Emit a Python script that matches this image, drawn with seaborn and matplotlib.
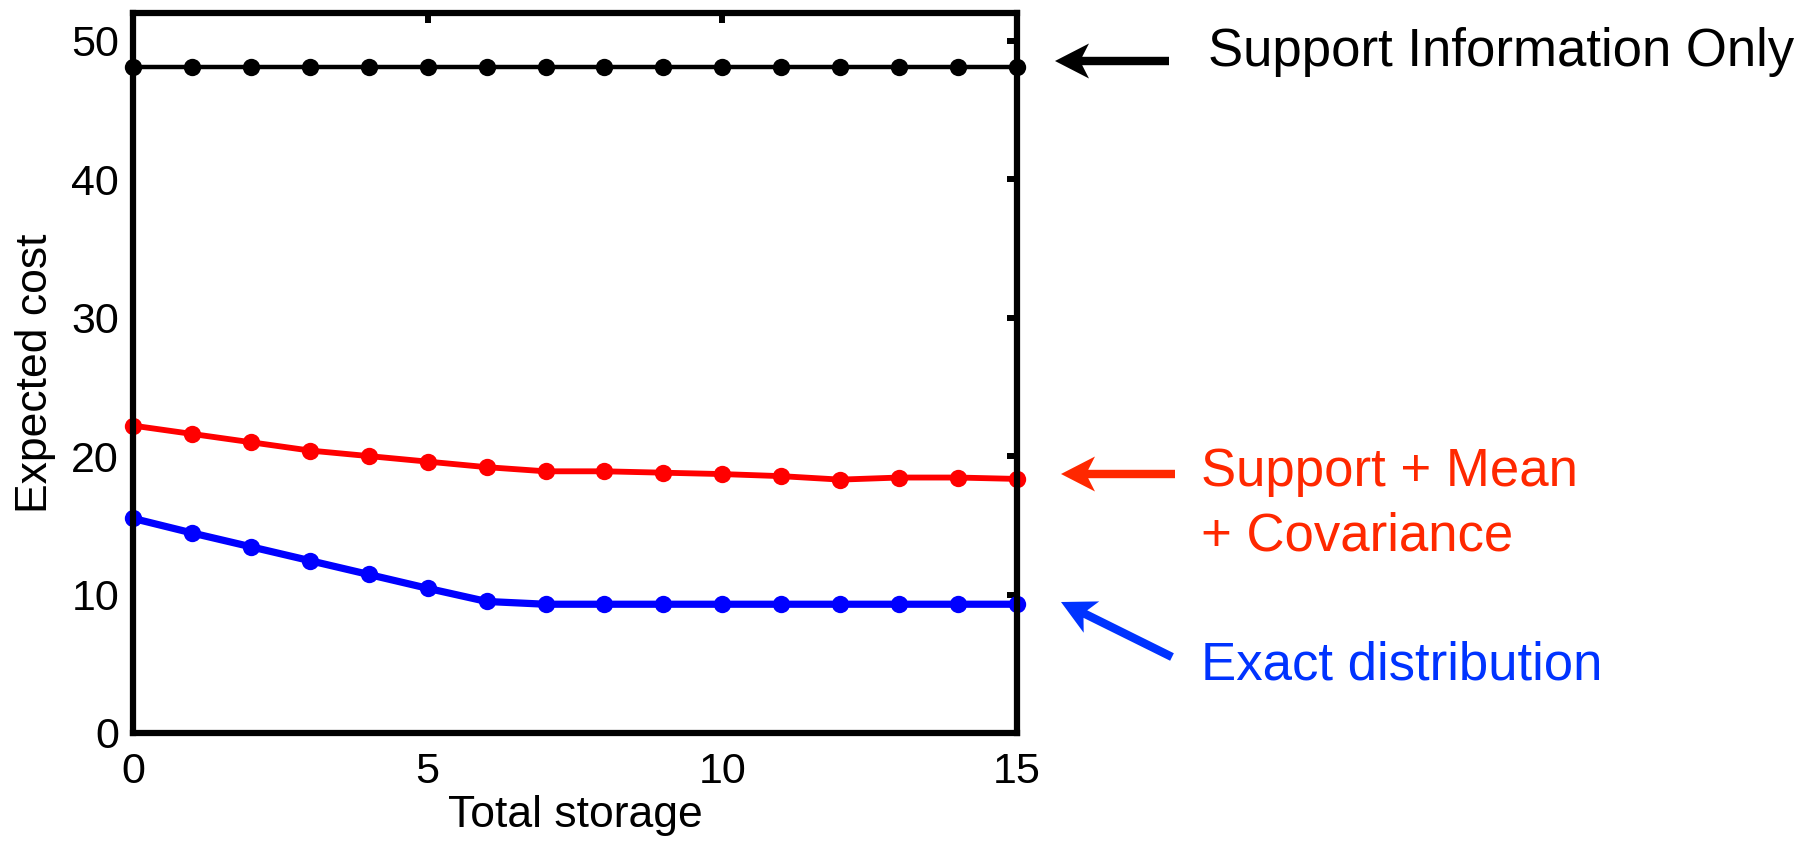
import numpy as np
import pandas as pd
import matplotlib
matplotlib.use("Agg")
import matplotlib.pyplot as plt
from matplotlib.patches import Polygon
import seaborn as sns

# Total storage levels on the x axis
storage = list(range(16))

# Expected cost for each information model
support_only = [48.1] * 16
support_mean_cov = [22.2, 21.6, 21.0, 20.4, 20.0, 19.6, 19.2, 18.9,
                    18.9, 18.8, 18.7, 18.55, 18.3, 18.45, 18.45, 18.35]
exact_dist = [15.5, 14.45, 13.45, 12.45, 11.45, 10.45, 9.5, 9.3,
              9.3, 9.3, 9.3, 9.3, 9.3, 9.3, 9.3, 9.3]

series_names = ["Support Information Only", "Support + Mean\n+ Covariance",
                "Exact distribution"]
line_colors = ["#000000", "#FF0000", "#0000FF"]
text_colors = ["#000000", "#FF2800", "#0033FF"]
line_widths = [3.2, 4.2, 5.2]

x_ticks = [0, 5, 10, 15]
y_ticks = [0, 10, 20, 30, 40, 50]

sns.set_style("white")
plt.rcParams["font.family"] = ["Liberation Sans", "DejaVu Sans"]
plt.rcParams["text.color"] = "black"
plt.rcParams["axes.labelcolor"] = "black"

W, H = 1819, 843
fig = plt.figure(figsize=(W / 100, H / 100), dpi=100)
ax = fig.add_axes([133 / W, 1 - 733 / H, (1017 - 133) / W, (733 - 13) / H])

df = pd.DataFrame({
    "storage": storage * 3,
    "cost": support_only + support_mean_cov + exact_dist,
    "model": [series_names[0]] * 16 + [series_names[1]] * 16 + [series_names[2]] * 16,
})

for name, col, lw in zip(series_names, line_colors, line_widths):
    sns.lineplot(data=df[df["model"] == name], x="storage", y="cost", ax=ax,
                 color=col, linewidth=lw, marker="o", markersize=12.5,
                 markeredgewidth=0, clip_on=False, zorder=3)

ax.set_xlim(0, 15)
ax.set_ylim(0, 52)
ax.set_xticks(x_ticks)
ax.set_yticks(y_ticks)
ax.tick_params(axis="both", direction="in", length=7, width=4.3, labelsize=31,
               top=True, right=True, pad=10, colors="black")
ax.tick_params(axis="x", pad=14)
for sp in ax.spines.values():
    sp.set_linewidth(4.5)
    sp.set_color("black")
    sp.set_zorder(4)

ax.set_xlabel("Total storage", fontsize=32, labelpad=2)
ax.set_ylabel("Expected cost", fontsize=32, labelpad=11)


def fx(px):
    return px / W


def fy(py):
    return 1 - py / H


def arrow(tip, tail, color, head_len=34, head_half=17.5, notch=0.8, shaft_half=4.2):
    """Filled arrow with a swept-back head, given in pixel coordinates (y down)."""
    tip = np.array(tip, float)
    tail = np.array(tail, float)
    u = (tail - tip) / np.linalg.norm(tail - tip)
    n = np.array([-u[1], u[0]])
    back = tip + head_len * u
    neck = tip + notch * head_len * u
    pts = [tip, back + head_half * n, neck + shaft_half * n, tail + shaft_half * n,
           tail - shaft_half * n, neck - shaft_half * n, back - head_half * n]
    pts = [(fx(p[0]), fy(p[1])) for p in pts]
    fig.patches.append(Polygon(pts, closed=True, facecolor=color, edgecolor="none",
                               transform=fig.transFigure, figure=fig))


# Series labels with arrows pointing at the right end of each curve
labels = [
    (series_names[0], (1208, 52), (1055, 61), (1169, 61)),
    (series_names[1], (1201, 504), (1061, 474), (1175, 474)),
    (series_names[2], (1201, 666), (1061, 602), (1172, 657)),
]
for (text, tpos, tip, tail), tc in zip(labels, text_colors):
    fig.text(fx(tpos[0]), fy(tpos[1]), text, color=tc, fontsize=38,
             ha="left", va="center", linespacing=1.36)
    arrow(tip, tail, tc)

fig.savefig("out.png", dpi=100)
